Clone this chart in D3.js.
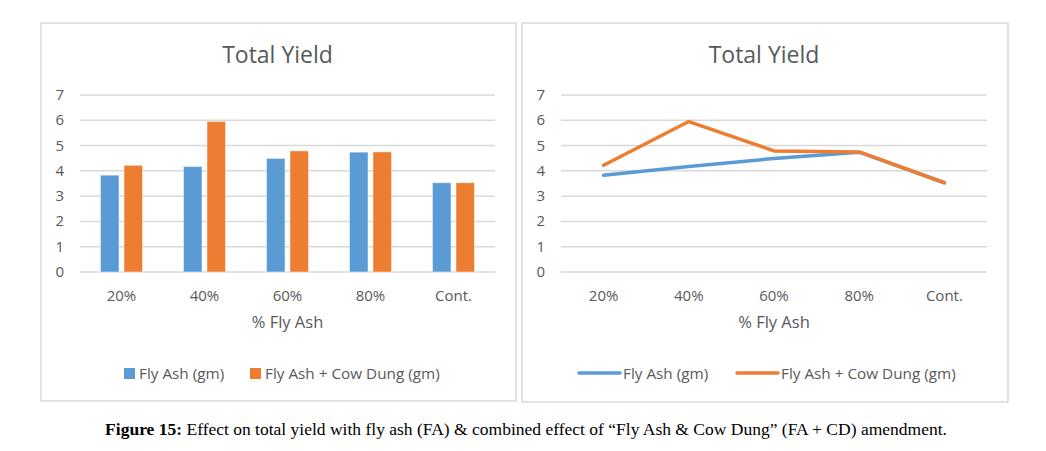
<!DOCTYPE html>
<meta charset="utf-8">
<html>
<head>
    <title>Total Yield</title>
    <script src="https://cdn.jsdelivr.net/npm/d3@7"></script>
</head>
<style>
    body{ margin: 0; background: white; }
    svg{ display: block; }
    text{ font-family: "Open Sans", sans-serif; fill: #595959; }
    .caption{ font-family: "Liberation Serif", "Times New Roman", serif; fill: #000; }
</style>
<body>
<svg width="1046" height="451"></svg>
<script>
    // data
    let categories = ["20%", "40%", "60%", "80%", "Cont."]
    let flyAsh = [3.83, 4.17, 4.49, 4.74, 3.53]
    let flyAshCowDung = [4.22, 5.95, 4.79, 4.75, 3.53]
    let seriesNames = ["Fly Ash (gm)", "Fly Ash + Cow Dung (gm)"]
    let yTicks = [0, 1, 2, 3, 4, 5, 6, 7]
    let colors = ["#5B9BD5", "#ED7D31"]

    let series = [flyAsh, flyAshCowDung]
    let svg = d3.select("svg")

    //*****************************
    // draws the common bits of one panel: frame, title, grid, ticks, axis title
    function panel(box, plot){
        let g = svg.append("g")
        g.append("rect")
            .attr("x", box.x0).attr("y", box.y0)
            .attr("width", box.x1 - box.x0).attr("height", box.y1 - box.y0)
            .attr("fill", "white").attr("stroke", "#d9d9d9").attr("stroke-width", 1.5)

        g.append("text")
            .attr("x", (box.x0 + box.x1) / 2 - 1).attr("y", 63)
            .attr("text-anchor", "middle")
            .style("font-size", "23px")
            .text("Total Yield")

        let y = d3.scaleLinear().domain([0, 7]).range([272, 95])

        g.selectAll(".grid").data(yTicks).enter().append("line")
            .attr("x1", plot.x0).attr("x2", plot.x1)
            .attr("y1", d => y(d)).attr("y2", d => y(d))
            .attr("stroke", "#d9d9d9").attr("stroke-width", 1.5)

        g.selectAll(".ytick").data(yTicks).enter().append("text")
            .attr("x", plot.x0 - 16).attr("y", d => y(d) + 5)
            .attr("text-anchor", "end")
            .style("font-size", "15px")
            .text(d => d)

        let x = d3.scaleBand().domain(categories).range([plot.x0, plot.x1]).padding(0)

        g.selectAll(".xtick").data(categories).enter().append("text")
            .attr("x", d => x(d) + x.bandwidth() / 2).attr("y", 301)
            .attr("text-anchor", "middle")
            .style("font-size", "15px")
            .text(d => d)

        g.append("text")
            .attr("x", (plot.x0 + plot.x1) / 2).attr("y", 328)
            .attr("text-anchor", "middle")
            .style("font-size", "16.5px")
            .text("% Fly Ash")

        return {g: g, x: x, y: y}
    }

    //*****************************
    // left: grouped bars
    let left = panel({x0: 41, x1: 516, y0: 23, y1: 401}, {x0: 80, x1: 495})
    let inner = d3.scaleBand().domain([0, 1]).range([0, left.x.bandwidth()])
        .paddingInner(0.213).paddingOuter(0.872)

    categories.forEach(function(c, i){
        left.g.selectAll(".bar" + i).data(series).enter().append("rect")
            .attr("x", (d, s) => left.x(c) + inner(s))
            .attr("y", d => left.y(d[i]))
            .attr("width", inner.bandwidth())
            .attr("height", d => left.y(0) - left.y(d[i]))
            .attr("fill", (d, s) => colors[s])
            .attr("stroke", "white").attr("stroke-opacity", 0.45).attr("stroke-width", 1)
    })

    let barLegendX = [124, 250]
    seriesNames.forEach(function(name, s){
        left.g.append("rect")
            .attr("x", barLegendX[s]).attr("y", 368)
            .attr("width", 11).attr("height", 11)
            .attr("fill", colors[s])
        left.g.append("text")
            .attr("x", barLegendX[s] + 15).attr("y", 378.5)
            .style("font-size", "15.3px")
            .text(name)
    })

    //*****************************
    // right: lines
    let right = panel({x0: 522, x1: 1008, y0: 23, y1: 402}, {x0: 561, x1: 987})
    let line = d3.line()
        .x((d, i) => right.x(categories[i]) + right.x.bandwidth() / 2)
        .y(d => right.y(d))

    series.forEach(function(values, s){
        right.g.append("path")
            .attr("d", line(values))
            .attr("fill", "none")
            .attr("stroke", colors[s])
            .attr("stroke-width", 3.5)
            .attr("stroke-linejoin", "round")
            .attr("stroke-linecap", "round")
    })

    let lineLegendX = [579, 737]
    seriesNames.forEach(function(name, s){
        right.g.append("line")
            .attr("x1", lineLegendX[s]).attr("x2", lineLegendX[s] + 41)
            .attr("y1", 373).attr("y2", 373)
            .attr("stroke", colors[s]).attr("stroke-width", 3.5)
            .attr("stroke-linecap", "round")
        right.g.append("text")
            .attr("x", lineLegendX[s] + 44).attr("y", 378.5)
            .style("font-size", "15.3px")
            .text(name)
    })

    //*****************************
    // caption under both panels
    let cap = svg.append("text").attr("class", "caption")
        .attr("x", 526).attr("y", 435)
        .attr("text-anchor", "middle")
        .style("font-size", "17.5px")
    cap.append("tspan").attr("font-weight", "bold").text("Figure 15:")
    cap.append("tspan").text(" Effect on total yield with fly ash (FA) & combined effect of \u201cFly Ash & Cow Dung\u201d (FA + CD) amendment.")
</script>
</body>
</html>
